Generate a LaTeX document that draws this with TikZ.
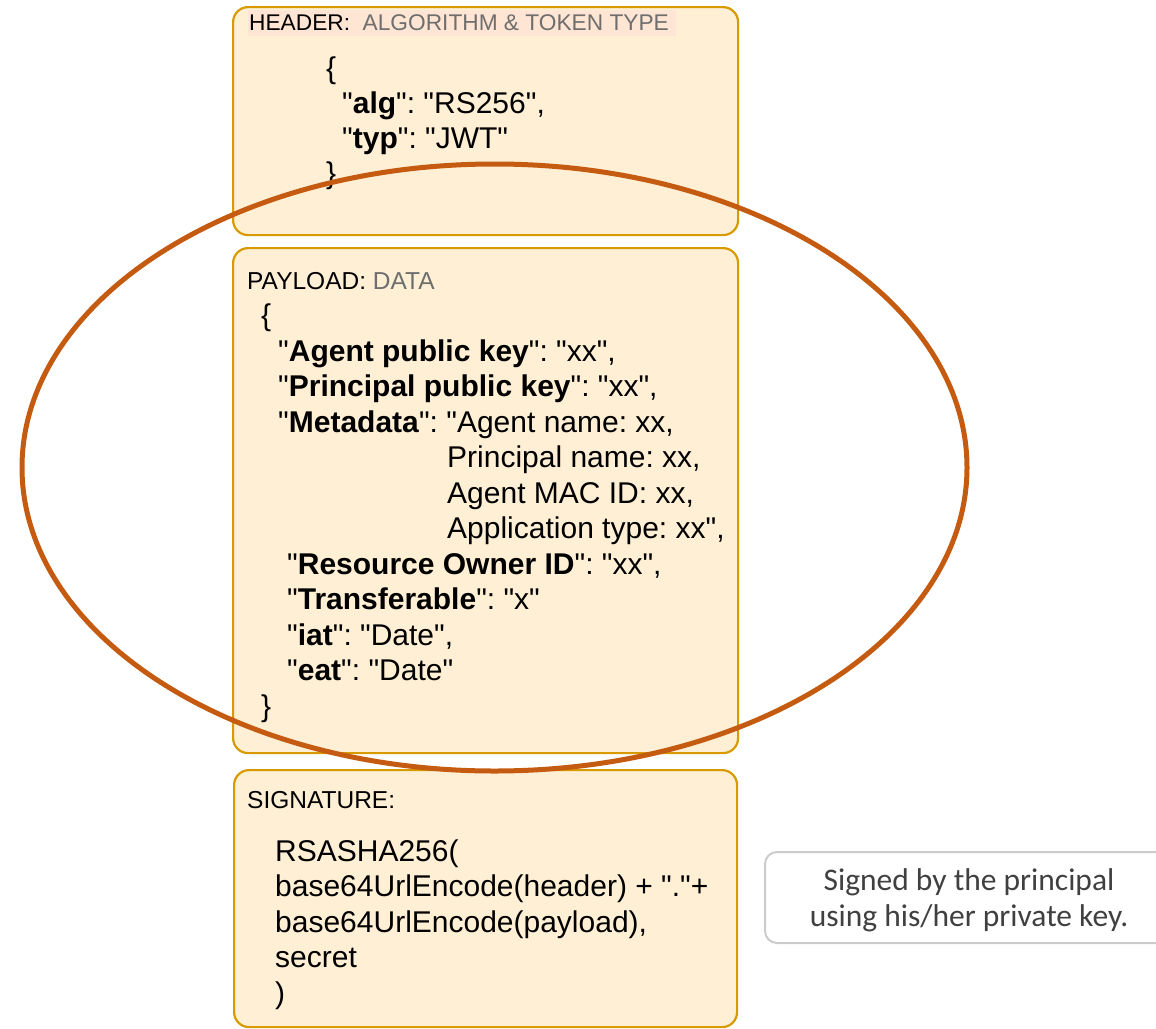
\documentclass[tikz,border=0pt]{standalone}
\usepackage{fontspec}
\setmainfont{Liberation Sans}[Ligatures=TeXOff]
\newfontfamily\calibfont{Carlito}
\definecolor{boxfill}{HTML}{FFEFD5}
\definecolor{boxline}{HTML}{D79B00}
\definecolor{hilite}{HTML}{FFE5D3}
\definecolor{ellcol}{HTML}{C55A11}
\definecolor{graytxt}{HTML}{6E6E6E}
\definecolor{notegray}{HTML}{CCCCCC}
\definecolor{notetxt}{HTML}{404040}
\frenchspacing
\begin{document}
\begin{tikzpicture}[x=1pt,y=-1pt,
  box/.style={draw=boxline, fill=boxfill, line width=2.2pt, rounded corners=15pt, anchor=north west, inner sep=0pt},
  body/.style={anchor=base west, inner sep=0pt, font=\fontsize{30}{36}\selectfont},
  lbl/.style={anchor=base west, inner sep=0pt, font=\fontsize{24.5}{28}\selectfont},
  hlbl/.style={anchor=base west, inner sep=0pt, font=\fontsize{22.7}{26}\selectfont},
  ellip/.style={draw=ellcol, line width=5pt}]
\useasboundingbox (0,0) rectangle (1156,1028);
% boxes
\node[box, minimum width=505pt, minimum height=228pt] (header) at (232,6) {};
\node[box, minimum width=505pt, minimum height=505pt] (payload) at (232,247) {};
\node[box, minimum width=503pt, minimum height=257pt] (signature) at (233,769) {};
\begin{scope}
\clip (0,0) rectangle (1156,1028);
\node[draw=notegray, fill=white, line width=2pt, rounded corners=12pt, anchor=north west, minimum width=430pt, minimum height=91pt, inner sep=0pt] (note) at (764,851) {};
\end{scope}
% header text
\fill[hilite] (248,10) rectangle (676,36);
\node[hlbl] (hlabel) at (249,30) {HEADER:\ \ \textcolor{graytxt}{ALGORITHM \& TOKEN TYPE}};
\node[body] (h1) at (326,78) {\{};
\node[body] (h2) at (342,113) {"\textbf{alg}": "RS256",};
\node[body] (h3) at (342,148) {"\textbf{typ}": "JWT"};
\node[body] (h4) at (326,183) {\}};
% payload text
\node[lbl] (plbl) at (247,289) {PAYLOAD: \textcolor{graytxt}{DATA}};
\node[body] (p0) at (261,325.5) {\{};
\node[body] (p1) at (278,361) {"\textbf{Agent public key}": "xx",};
\node[body] (p2) at (278,396.5) {"\textbf{Principal public key}": "xx",};
\node[body] (p3) at (278,432) {"\textbf{Metadata}": "Agent name: xx,};
\node[body] (p4) at (447,467.5) {Principal name: xx,};
\node[body] (p5) at (447,503) {Agent MAC ID: xx,};
\node[body] (p6) at (447,538.5) {Application type: xx",};
\node[body] (p7) at (287,574) {"\textbf{Resource Owner ID}": "xx",};
\node[body] (p8) at (287,609.5) {"\textbf{Transferable}": "x"};
\node[body] (p9) at (287,645) {"\textbf{iat}": "Date",};
\node[body] (p10) at (287,680.5) {"\textbf{eat}": "Date"};
\node[body] (p11) at (261,716) {\}};
% signature text
\node[lbl] (slbl) at (247,808) {SIGNATURE:};
\node[body] (s1) at (275,861) {RSASHA256(};
\node[body] (s2) at (275,896.5) {base64UrlEncode(header) + "."+};
\node[body] (s3) at (275,932) {base64UrlEncode(payload),};
\node[body] (s4) at (275,967.5) {secret};
\node[body] (s5) at (275,1003) {)};
% note text
\node[inner sep=0pt, align=center, text=notetxt, font=\calibfont\fontsize{31.5}{36}\selectfont] (notetext) at (969,900) {Signed by the principal\\using his/her private key.};
% ellipse
\draw[ellip] (494.5,467.5) ellipse [x radius=472.5, y radius=303.5];
\end{tikzpicture}
\end{document}
